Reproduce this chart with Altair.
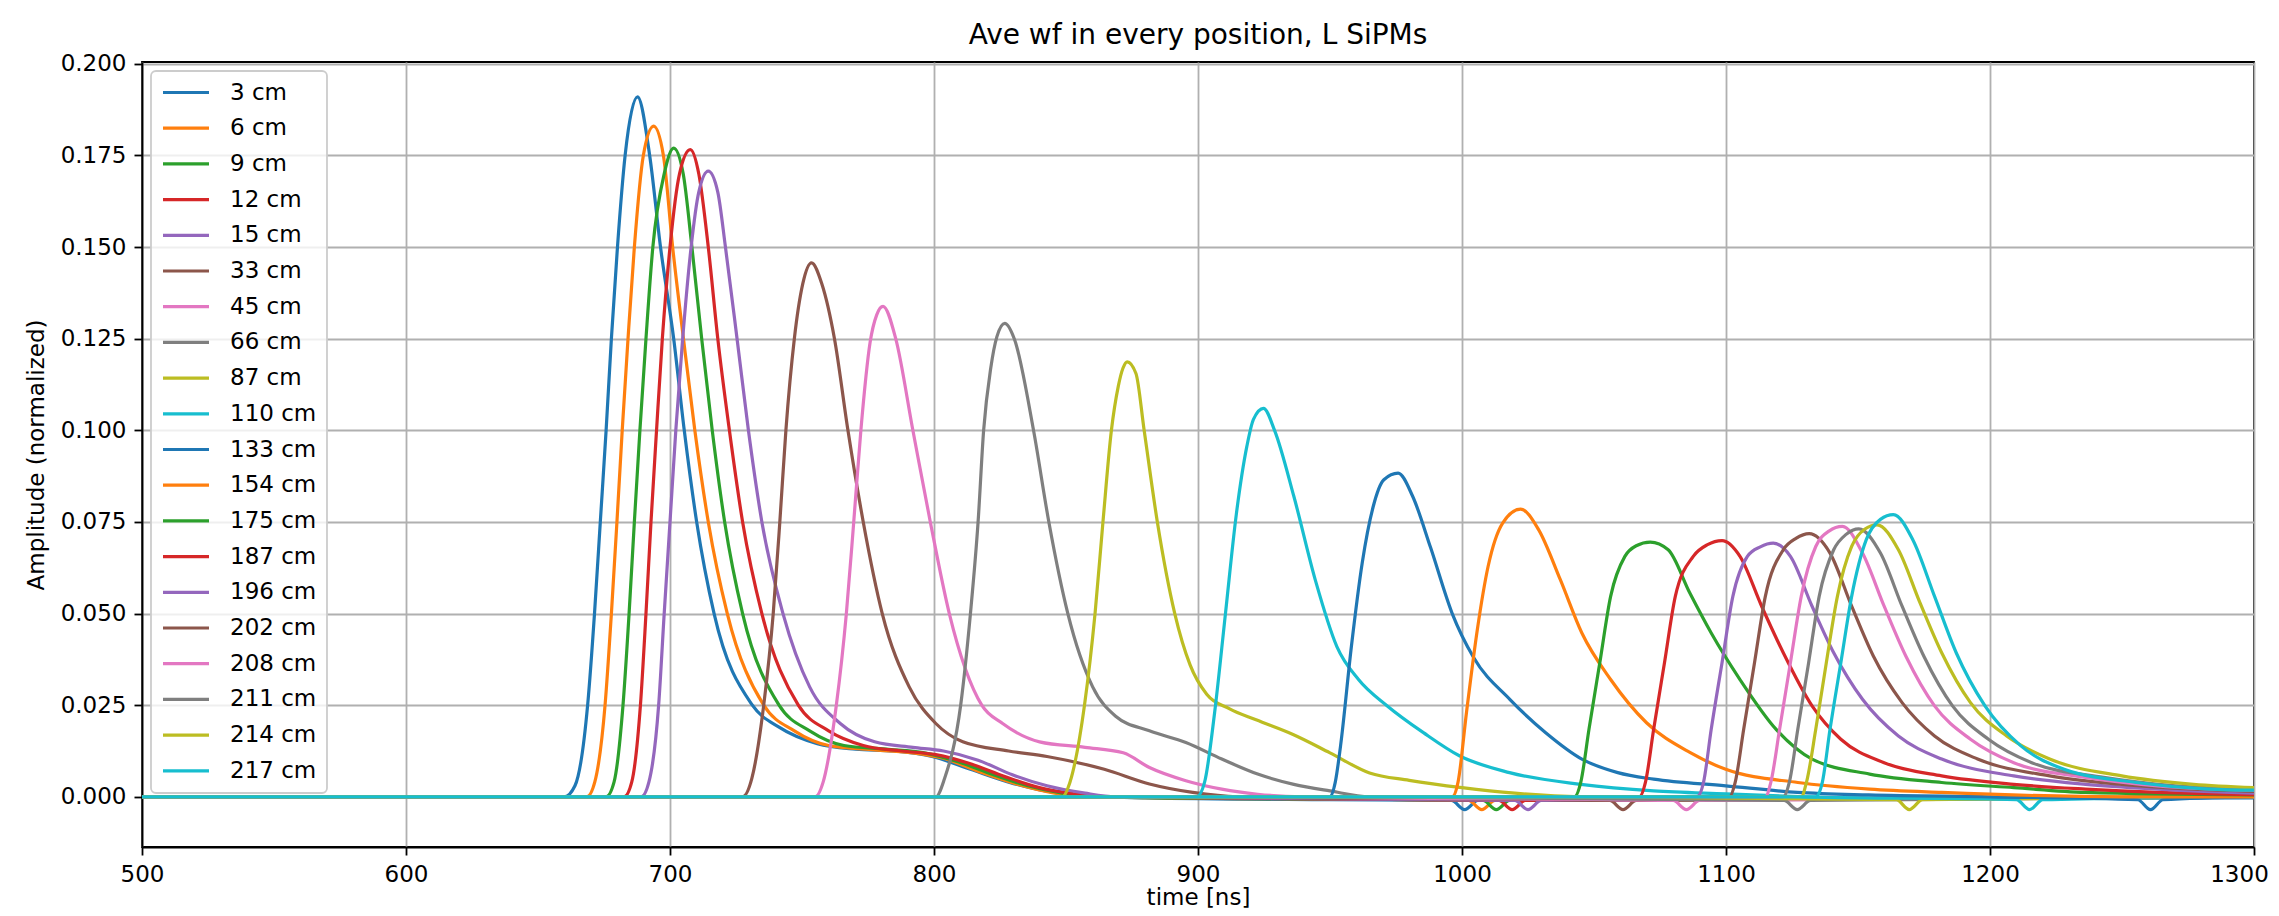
import altair as alt
import pandas as pd

# ---------------- data ----------------
labels = ["3 cm", "6 cm", "9 cm", "12 cm", "15 cm", "33 cm", "45 cm", "66 cm", "87 cm",
          "110 cm", "133 cm", "154 cm", "175 cm", "187 cm", "196 cm", "202 cm", "208 cm",
          "211 cm", "214 cm", "217 cm"]

t_3 = [500, 660, 664, 668.8, 671.4, 673.6, 675.8, 677.8, 680.1, 683.0, 687.7, 692.3, 696.4, 701.4, 705.4,
       710.1, 716.7, 731.2, 741.3, 755.8, 770.3, 784.8, 799.3, 813.8, 828.3, 842.8, 857.2, 880, 950, 996,
       1001, 1006, 1100, 1300]
a_3 = [0, 0, 0.003, 0.025, 0.05, 0.075, 0.1, 0.125, 0.15, 0.175, 0.191, 0.175, 0.15, 0.125, 0.1,
       0.075, 0.05, 0.025, 0.019, 0.0145, 0.013, 0.0125, 0.011, 0.0075, 0.004, 0.0015, 0.0003, -0.0003, -0.0008, -0.001,
       -0.0035, -0.001, -0.0005, -0.0003]

t_6 = [500, 668.5, 671.5, 675.4, 677.8, 679.9, 681.9, 684.1, 686.5, 689.9, 693.8, 697.5, 701.0, 705.1, 709.4,
       714.5, 721.7, 735.5, 747.1, 760.1, 777.5, 792, 803.6, 816.7, 831.2, 845.7, 860, 1002.5, 1007.5, 1012.5, 1300]
a_6 = [0, 0, 0.004, 0.025, 0.05, 0.075, 0.1, 0.125, 0.15, 0.175, 0.183, 0.175, 0.15, 0.125, 0.1,
       0.075, 0.05, 0.025, 0.018, 0.014, 0.0128, 0.012, 0.0105, 0.007, 0.0035, 0.001, 0, -0.001, -0.0035, -0.001, 0]

t_9 = [500, 675.8, 678.8, 682.2, 684.5, 686.5, 688.6, 690.9, 693.5, 697.8, 701.4, 705, 708.3, 712, 716,
       720.7, 727.5, 741.3, 752.9, 765.9, 781.9, 796.4, 809.4, 822.5, 835.5, 848.6, 862, 1008, 1013, 1018, 1300]
a_9 = [0, 0, 0.004, 0.025, 0.05, 0.075, 0.1, 0.125, 0.15, 0.17, 0.177, 0.17, 0.15, 0.125, 0.1,
       0.075, 0.05, 0.025, 0.018, 0.014, 0.013, 0.012, 0.0095, 0.006, 0.003, 0.001, 0, -0.001, -0.0035, -0.001, 0]

t_12 = [500, 682.6, 685.5, 688.8, 690.9, 692.8, 694.9, 697.1, 700, 703.6, 707.7, 710.9, 714.5, 718.1, 722.5,
        727.5, 734.8, 748.6, 760.1, 773.2, 787.7, 800.7, 813.8, 826.8, 839.9, 852.9, 866, 1014, 1019, 1024, 1300]
a_12 = [0, 0, 0.004, 0.025, 0.05, 0.075, 0.1, 0.125, 0.15, 0.17, 0.1766, 0.17, 0.15, 0.125, 0.1,
        0.075, 0.05, 0.025, 0.018, 0.014, 0.0125, 0.0115, 0.009, 0.0055, 0.0025, 0.0008, 0, -0.001, -0.0035, -0.001, 0]

t_15 = [500, 689.1, 692, 695.7, 697.8, 700, 702.2, 704.8, 708, 710.9, 714.5, 718.1, 721, 725.4, 729.7,
        734.8, 742.8, 752.9, 764.5, 777.5, 792, 803.6, 816.7, 829.7, 842.8, 857.2, 868.8, 1020, 1025, 1030, 1300]
a_15 = [0, 0, 0.004, 0.025, 0.05, 0.075, 0.1, 0.125, 0.15, 0.165, 0.1707, 0.165, 0.15, 0.125, 0.1,
        0.075, 0.05, 0.03, 0.02, 0.015, 0.0135, 0.0125, 0.01, 0.006, 0.003, 0.001, 0, -0.001, -0.0035, -0.001, 0]

t_33 = [500, 727.5, 731, 735.5, 739.1, 741.6, 743.9, 747.1, 750.3, 753.6, 757.5, 762.3, 767.4, 773.2, 780.4,
        790.6, 800.7, 810.9, 828.3, 842.8, 864.5, 881.6, 898, 915, 1056, 1061, 1066, 1300]
a_33 = [0, 0, 0.005, 0.025, 0.05, 0.075, 0.1, 0.125, 0.14, 0.1457, 0.14, 0.125, 0.1, 0.075, 0.05,
        0.03, 0.02, 0.015, 0.0125, 0.011, 0.0075, 0.0035, 0.0012, 0, -0.001, -0.0035, -0.001, 0]

t_45 = [500, 755, 758, 763, 766.8, 769.6, 772.3, 775.8, 778.3, 780.7, 785.5, 792, 798.6, 805.8, 818.1,
        826, 840, 857.2, 871.7, 881.6, 895.4, 909, 922.6, 940, 1080, 1085, 1090, 1300]
a_45 = [0, 0, 0.004, 0.025, 0.05, 0.075, 0.1, 0.124, 0.1315, 0.1338, 0.125, 0.1, 0.075, 0.05, 0.025,
        0.02, 0.015, 0.0135, 0.012, 0.008, 0.0044, 0.0021, 0.0007, 0, -0.001, -0.0035, -0.001, 0]

t_66 = [500, 800.7, 804, 810.1, 813.8, 816.7, 818.8, 821.5, 823.8, 826.8, 830.4, 837.7, 843.5, 850.7, 860.1,
        868.8, 881.6, 895.4, 909, 922.6, 936.3, 950, 965, 1122, 1127, 1132, 1300]
a_66 = [0, 0, 0.005, 0.025, 0.05, 0.075, 0.1, 0.117, 0.1255, 0.1292, 0.125, 0.1, 0.075, 0.05, 0.03,
        0.022, 0.018, 0.0148, 0.0103, 0.0062, 0.0034, 0.0016, 0, -0.001, -0.0035, -0.001, 0]

t_87 = [500, 848.6, 851.5, 857, 861, 864, 867.2, 869.8, 871.6, 873.2, 876.5, 879.6, 884.6, 891.2, 897, 903.3,
        912, 922, 936, 950, 965, 980, 1000, 1020, 1045, 1164.5, 1169.4, 1174.5, 1300]
a_87 = [0, 0, 0.004, 0.025, 0.05, 0.075, 0.1, 0.112, 0.117, 0.1187, 0.1155, 0.1, 0.075, 0.05, 0.036, 0.028,
        0.024, 0.021, 0.017, 0.012, 0.0065, 0.0045, 0.0025, 0.001, 0, -0.0008, -0.0035, -0.0008, 0]

t_110 = [500, 899.5, 902.5, 906.3, 910.4, 914.5, 918.5, 921, 924.8, 929, 936.3, 944.5, 952.6, 960.8, 971.7,
         985.4, 999, 1018, 1045, 1072.6, 1100, 1130, 1210, 1215, 1220, 1300]
a_110 = [0, 0, 0.004, 0.023, 0.05, 0.077, 0.0956, 0.103, 0.106, 0.1, 0.082, 0.059, 0.041, 0.032, 0.0248,
         0.0175, 0.0112, 0.0066, 0.0034, 0.0016, 0.0008, 0, -0.0008, -0.0035, -0.0008, 0]

t_133 = [500, 949.9, 952, 954, 958.1, 962.2, 966.3, 970.4, 975.8, 981.3, 988.1, 996.3, 1004.4, 1018.1, 1031.7,
         1045.4, 1059, 1072.6, 1099.9, 1127, 1154, 1200, 1256, 1260.8, 1265.5, 1300]
a_133 = [0, 0, 0.004, 0.0139, 0.041, 0.0638, 0.079, 0.0865, 0.0883, 0.082, 0.068, 0.05, 0.038, 0.0266, 0.0175,
         0.0103, 0.0066, 0.0048, 0.003, 0.0012, 0.0005, 0, -0.0008, -0.0035, -0.0008, 0]

t_154 = [500, 996.3, 998.5, 1001.7, 1005.8, 1009.9, 1015.4, 1022.2, 1029, 1037.2, 1045.4, 1056.3, 1069.9, 1086.3,
         1099.9, 1127.2, 1154.4, 1181.7, 1250, 1300]
a_154 = [0, 0, 0.004, 0.023, 0.0456, 0.0629, 0.0747, 0.0785, 0.0729, 0.0593, 0.0447, 0.032, 0.0202, 0.0121,
         0.0075, 0.0039, 0.0021, 0.0012, 0, 0]

t_175 = [500, 1042.6, 1045, 1048.1, 1052.2, 1056.3, 1061.7, 1066, 1071.3, 1078.1, 1086.3, 1094.4, 1105.3, 1119,
         1132.6, 1154.4, 1181.7, 1209, 1236.2, 1300]
a_175 = [0, 0, 0.004, 0.0184, 0.0366, 0.0547, 0.0656, 0.0685, 0.0695, 0.0674, 0.0556, 0.0447, 0.032, 0.0184,
         0.0103, 0.0062, 0.0039, 0.0025, 0.0012, 0.0005]

t_187 = [500, 1067.2, 1069.5, 1072.6, 1076.7, 1080.8, 1087.6, 1093, 1098.5, 1105.3, 1113.5, 1121.7, 1132.6, 1143.5,
         1159.9, 1181.7, 1209, 1236.2, 1263.5, 1300]
a_187 = [0, 0, 0.004, 0.0184, 0.0366, 0.0547, 0.0656, 0.0688, 0.0699, 0.0656, 0.052, 0.0393, 0.0248, 0.0157,
         0.0093, 0.0057, 0.0034, 0.0021, 0.0012, 0.0006]

t_196 = [500, 1089, 1091.5, 1094.4, 1098.5, 1102.6, 1108.1, 1113, 1117.9, 1124.4, 1132.6, 1140.8, 1151.7, 1165.3,
         1181.7, 1209, 1236.2, 1263.5, 1300]
a_196 = [0, 0, 0.004, 0.0184, 0.0366, 0.0547, 0.0656, 0.0682, 0.0692, 0.0656, 0.052, 0.0393, 0.0266, 0.0166,
         0.0103, 0.0057, 0.0034, 0.0021, 0.001]

t_202 = [500, 1101.3, 1103.5, 1106.7, 1110.8, 1114.9, 1121.7, 1126.5, 1131.5, 1139.4, 1147.6, 1155.8, 1166.7, 1179,
         1195.3, 1222.6, 1249.9, 1277.1, 1300]
a_202 = [0, 0, 0.004, 0.0184, 0.0366, 0.0547, 0.0674, 0.0705, 0.0718, 0.0665, 0.052, 0.0384, 0.0257, 0.0166,
         0.0103, 0.0057, 0.0034, 0.0021, 0.0015]

t_208 = [500, 1114.9, 1117, 1120.3, 1124.4, 1128.5, 1134, 1139, 1144.1, 1151.7, 1159.9, 1168.1, 1179, 1192.6,
         1209, 1236.2, 1263.5, 1300]
a_208 = [0, 0, 0.004, 0.0184, 0.0366, 0.0547, 0.0683, 0.0725, 0.0738, 0.0665, 0.052, 0.0384, 0.0248, 0.0157,
         0.0093, 0.0053, 0.003, 0.0018]

t_211 = [500, 1121.7, 1124, 1127.2, 1131.3, 1135.3, 1140.8, 1145.5, 1150.3, 1158.5, 1166.7, 1174.9, 1185.8, 1199.4,
         1215.8, 1243.1, 1270.3, 1300]
a_211 = [0, 0, 0.004, 0.0184, 0.0366, 0.0547, 0.0674, 0.0716, 0.0731, 0.0665, 0.052, 0.0384, 0.0248, 0.0157,
         0.0093, 0.0053, 0.003, 0.002]

t_214 = [500, 1128.5, 1130.5, 1134, 1138, 1142.2, 1147.6, 1152.5, 1157.2, 1165.3, 1173.5, 1181.7, 1192.6, 1206.3,
         1222.6, 1249.9, 1277.1, 1300]
a_214 = [0, 0, 0.004, 0.0184, 0.0366, 0.0547, 0.0683, 0.073, 0.0742, 0.0674, 0.0529, 0.0393, 0.0257, 0.0166,
         0.0103, 0.0057, 0.0034, 0.0025]

t_217 = [500, 1134, 1136.5, 1139.4, 1143.5, 1147.6, 1153.1, 1158.5, 1163.4, 1170.8, 1179, 1187.2, 1198.1, 1211.7,
         1228.1, 1255.4, 1282.6, 1300]
a_217 = [0, 0, 0.004, 0.0184, 0.0366, 0.0547, 0.0701, 0.0757, 0.077, 0.0701, 0.0547, 0.0393, 0.0248, 0.0139,
         0.0075, 0.0039, 0.0021, 0.0018]

x_ticks = [500, 600, 700, 800, 900, 1000, 1100, 1200, 1300]
y_ticks = [0.0, 0.025, 0.05, 0.075, 0.1, 0.125, 0.15, 0.175, 0.2]

tab10 = ["#1f77b4", "#ff7f0e", "#2ca02c", "#d62728", "#9467bd",
         "#8c564b", "#e377c2", "#7f7f7f", "#bcbd22", "#17becf"]

series = [
    (t_3, a_3), (t_6, a_6), (t_9, a_9), (t_12, a_12), (t_15, a_15), (t_33, a_33), (t_45, a_45),
    (t_66, a_66), (t_87, a_87), (t_110, a_110), (t_133, a_133), (t_154, a_154), (t_175, a_175),
    (t_187, a_187), (t_196, a_196), (t_202, a_202), (t_208, a_208), (t_211, a_211), (t_214, a_214),
    (t_217, a_217),
]

rows = []
for idx, (lab, (ts, vs)) in enumerate(zip(labels, series)):
    for t, v in zip(ts, vs):
        rows.append({"pos": lab, "k": idx, "time": t, "amp": v})
df = pd.DataFrame(rows)

colors = [tab10[i % 10] for i in range(len(labels))]
FONT = "DejaVu Sans"

chart = alt.Chart(df).mark_line(strokeWidth=3.2, interpolate="monotone", clip=True).encode(
    x=alt.X("time:Q",
            scale=alt.Scale(domain=[500, 1300], nice=False, zero=False),
            axis=alt.Axis(title="time [ns]", values=x_ticks, format="d", labelPadding=8,
                          titlePadding=0, labelFlush=False,
                          labelOffset={"condition": {"test": "datum.value >= 1300", "value": -15},
                                       "value": 0})),
    y=alt.Y("amp:Q",
            scale=alt.Scale(domain=[-0.0137, 0.2005], nice=False, zero=False),
            axis=alt.Axis(title="Amplitude (normalized)", values=y_ticks, format=".3f",
                          labelPadding=8, titlePadding=12, labelFlush=False)),
    color=alt.Color("pos:N", sort=labels,
                    scale=alt.Scale(domain=labels, range=colors),
                    legend=alt.Legend(title=None, orient="top-left", offset=9, padding=10,
                                      fillColor="rgba(255,255,255,0.8)", strokeColor="#cccccc",
                                      cornerRadius=5, symbolType="stroke", symbolSize=2116,
                                      symbolStrokeWidth=3.2, labelFontSize=23, labelFont=FONT,
                                      labelColor="black", rowPadding=11.7, clipHeight=23,
                                      labelOffset=19, symbolLimit=50)),
).properties(
    width=2112,
    height=785,
    title=alt.TitleParams("Ave wf in every position, L SiPMs", fontSize=28, font=FONT,
                          fontWeight="normal", color="black", anchor="middle", offset=3),
    autosize=alt.AutoSizeParams(type="none"),
    padding={"left": 134, "top": 54, "right": 17, "bottom": 61},
).configure_axis(
    labelFont=FONT, titleFont=FONT, labelFontSize=23, titleFontSize=23, titleFontWeight="normal",
    labelColor="black", titleColor="black", tickColor="black", domainColor="black",
    domainWidth=1.8, tickWidth=1.8, tickSize=8, gridColor="#b0b0b0", gridWidth=1.8, gridOpacity=1,
).configure_view(
    stroke="black", strokeWidth=1.8,
).configure_legend(
    strokeWidth=1.8,
)

chart.save("out.html", embed_options={"renderer": "svg", "actions": False})
